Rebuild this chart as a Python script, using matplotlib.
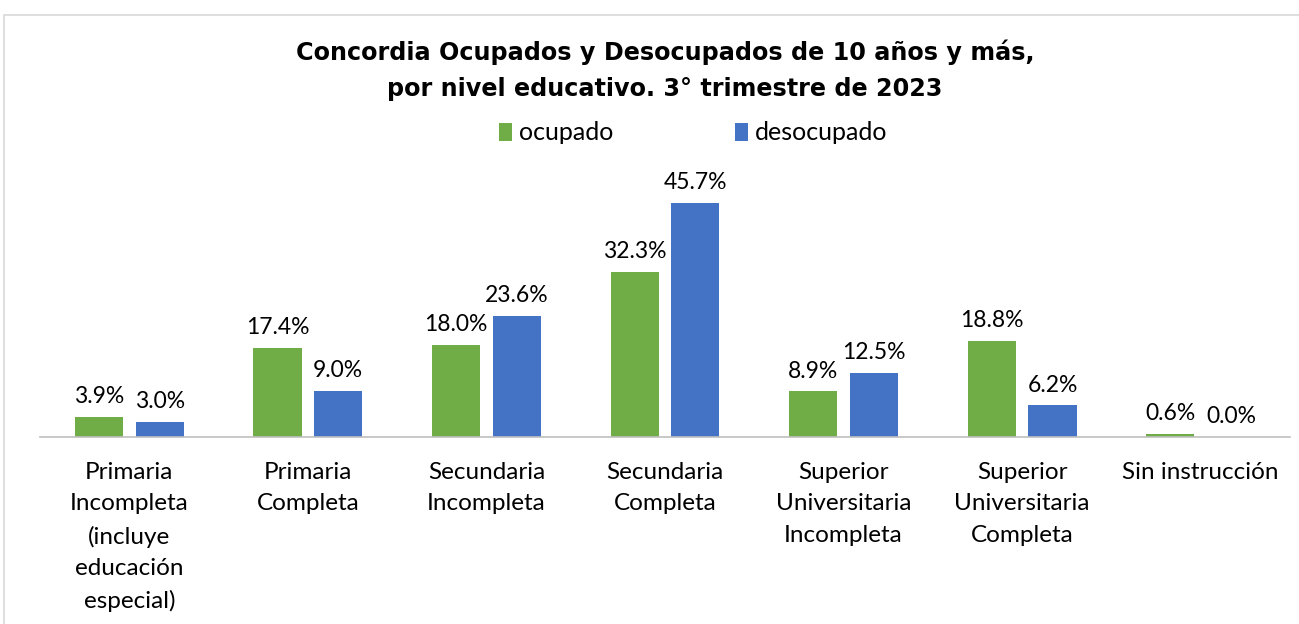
import matplotlib
matplotlib.use("Agg")
import matplotlib.pyplot as plt
import numpy as np
from matplotlib.patches import Rectangle

categories = ["Primaria\nIncompleta\n(incluye\neducación\nespecial)", "Primaria\nCompleta",
              "Secundaria\nIncompleta", "Secundaria\nCompleta",
              "Superior\nUniversitaria\nIncompleta", "Superior\nUniversitaria\nCompleta",
              "Sin instrucción"]
ocupado = [3.9, 17.4, 18.0, 32.3, 8.9, 18.8, 0.6]
desocupado = [3.0, 9.0, 23.6, 45.7, 12.5, 6.2, 0.0]
series_names = ["ocupado", "desocupado"]
colors = ["#70AD47", "#4472C4"]

W, H = 1299, 624
fig = plt.figure(figsize=(W / 100, H / 100), dpi=100)
fig.patches.append(Rectangle((4 / W, -0.1), 1.5, (H - 15) / H + 0.1, transform=fig.transFigure,
                             fill=False, edgecolor="#D9D9D9", linewidth=1.2))

ax = fig.add_axes([40 / W, (H - 437) / H, 1250 / W, 256 / H])
x = np.arange(len(categories))
bw = 0.27
gap = 0.035
b1 = ax.bar(x - bw / 2 - gap, ocupado, bw, color=colors[0], label=series_names[0])
b2 = ax.bar(x + bw / 2 + gap, desocupado, bw, color=colors[1], label=series_names[1])
ax.set_xlim(-0.5, len(categories) - 0.5)
ax.set_ylim(0, 50)
for bars, vals in ((b1, ocupado), (b2, desocupado)):
    for b, v in zip(bars, vals):
        ax.annotate(f"{v:.1f}%", (b.get_x() + b.get_width() / 2, v), xytext=(0, 7),
                    textcoords="offset points", ha="center", va="bottom",
                    fontsize=16.5, family="Lato", color="#000000")
for s in ["top", "right", "left"]:
    ax.spines[s].set_visible(False)
ax.spines["bottom"].set_color("#BFBFBF")
ax.spines["bottom"].set_linewidth(1.2)
ax.set_yticks([])
ax.set_xticks(x)
ax.set_xticklabels(categories, fontsize=17.5, family="Lato", linespacing=1.61)
ax.tick_params(axis="x", length=0, pad=18)

fig.text(665 / W, (H - 70) / H, "Concordia Ocupados y Desocupados de 10 años y más,\npor nivel educativo. 3° trimestre de 2023",
         ha="center", va="center", fontsize=17.2, fontweight="bold", family="DejaVu Sans", linespacing=1.62)
fig.legend(handles=[b1, b2], loc="center", bbox_to_anchor=(693.5 / W, (H - 133) / H), ncol=2,
           frameon=False, prop={"family": "Lato", "size": 18}, handlelength=0.5,
           handleheight=0.7, columnspacing=4.85, handletextpad=0.3)
fig.savefig("out.png", dpi=100)
